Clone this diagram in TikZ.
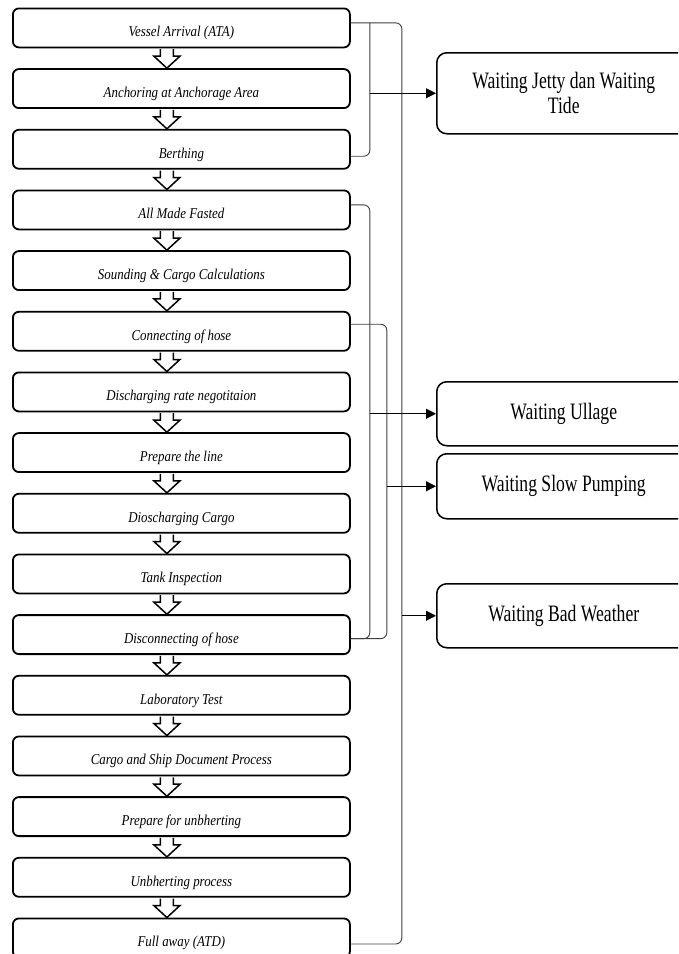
\documentclass[tikz,border=0pt]{standalone}
\usepackage{fontspec}
\setmainfont{Liberation Serif}
\newfontfamily\stepfont{Liberation Serif}[FakeStretch=0.86]
\newfontfamily\waitfont{Liberation Serif}[FakeStretch=0.75]
\usetikzlibrary{arrows.meta,calc}
\begin{document}
\begin{tikzpicture}[x=1pt,y=-1pt,
  stepbox/.style={draw=black, line width=1.8pt, rounded corners=6pt, minimum width=337pt,
    minimum height=39pt, inner sep=0pt, text height=18.6pt, text depth=1pt,
    font=\stepfont\fontsize{15}{17}\selectfont\itshape, anchor=north west},
  waitbox/.style={draw=black, line width=1.5pt, rounded corners=10pt, inner sep=0pt,
    anchor=north west, minimum width=254pt, font=\waitfont\fontsize{23.5}{25}\selectfont, align=center},
  link/.style={draw=black!75, line width=0.9pt, rounded corners=6pt},
  feed/.style={draw=black, line width=1pt, -{Triangle[length=10pt,width=10pt]}},
  blockarrow/.style={draw=black, line width=1.5pt, fill=white, line join=miter}]
\useasboundingbox (0,0) rectangle (678,954);
\clip (0,0) rectangle (678,954);
\fill[white] (0,0) rectangle (678,954);

% process steps
\foreach \t [count=\i] in {Vessel Arrival (ATA), Anchoring at Anchorage Area, Berthing,
  All Made Fasted, Sounding \& Cargo Calculations, Connecting of hose,
  Discharging rate negotitaion, Prepare the line, Dioscharging Cargo, Tank Inspection,
  Disconnecting of hose, Laboratory Test, Cargo and Ship Document Process,
  Prepare for unbherting, Unbherting process, Full away (ATD)}
  \node[stepbox] (b\i) at (12, {7.5+60.67*(\i-1)}) {\t};

% hollow block arrows between steps
\foreach \i [evaluate=\i as \j using int(\i+1)] in {1,...,15}
  \draw[blockarrow] ($(b\i.south)+(-21,0.9)$) -- ($(b\j.north)+(-21,-12)$)
    -- ($(b\j.north)+(-27.5,-12)$) -- ($(b\j.north)+(-14.5,0)$)
    -- ($(b\j.north)+(-1.5,-12)$) -- ($(b\j.north)+(-8,-12)$)
    -- ($(b\i.south)+(-8,0.9)$);

% waiting boxes
\node[waitbox, minimum height=81pt] (jet) at (436,52) {Waiting Jetty dan Waiting\\Tide};
\node[waitbox, minimum height=64pt] (ull) at (436,381) {Waiting Ullage};
\node[waitbox, minimum height=65pt] (slow) at (436,453) {Waiting Slow Pumping};
\node[waitbox, minimum height=64pt] (bad) at (436,583) {Waiting Bad Weather};

% bracket columns
\coordinate (xa) at ($(b1.east)+(19,0)$);
\coordinate (xo) at ($(b1.east)+(51,0)$);
\coordinate (xb) at ($(b4.east)+(19,0)$);
\coordinate (xc) at ($(b6.east)+(36,0)$);

% outer bracket (Vessel Arrival .. Full away)
\draw[link] ($(b1.east)+(0,-5)$) -- ($(b1.east)+(51,-5)$) -- ($(b16.east)+(51,6)$) -- ($(b16.east)+(0,6)$);
% bracket Vessel Arrival .. Berthing
\draw[link] ($(b1.east)+(19,-5)$) -- ($(b3.east)+(19,7)$) -- ($(b3.east)+(0,7)$);
% bracket All Made Fasted .. Disconnecting of hose
\draw[link] ($(b4.east)+(0,-5)$) -- ($(b4.east)+(19,-5)$) -- ($(b11.east)+(19,4)$) -- ($(b11.east)+(0,4)$);
% bracket Connecting of hose .. Disconnecting of hose
\draw[link] ($(b6.east)+(0,-7)$) -- ($(b6.east)+(36,-7)$) -- ($(b11.east)+(36,4)$) -- ($(b11.east)+(0,4)$);

% feeds into the waiting boxes
\draw[feed] (jet.west -| xa) -- (jet.west);
\draw[feed] (ull.west -| xb) -- (ull.west);
\draw[feed] (slow.west -| xc) -- (slow.west);
\draw[feed] (bad.west -| xo) -- (bad.west);
\end{tikzpicture}
\end{document}
